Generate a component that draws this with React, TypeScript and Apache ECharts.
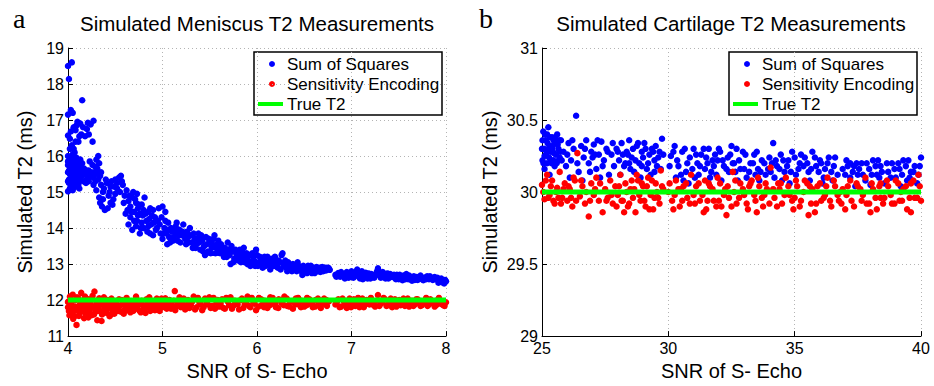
import React, { useEffect, useRef } from "react";
import * as echarts from "echarts";

// ---------- Data ----------
const meniscusTitle = "Simulated Meniscus T2 Measurements";
const cartilageTitle = "Simulated Cartilage T2 Measurements";
const seriesNames = ["Sum of Squares", "Sensitivity Encoding", "True T2"];
const xAxisName = "SNR of S- Echo";
const yAxisName = "Simulated T2 (ms)";

const meniscusX = { min: 4, max: 8, interval: 1 };
const meniscusY = { min: 11, max: 19, interval: 1 };
const cartilageX = { min: 25, max: 40, interval: 5 };
const cartilageY = { min: 29, max: 31, interval: 0.5 };

const meniscusTrueT2 = 12;
const cartilageTrueT2 = 30;

const meniscusSoS: number[][] = [
  [4.0, 18.5], [4.04, 18.6], [4.01, 18.14], [4.15, 17.55], [4.03, 17.28], [4.0, 17.15], [4.05, 17.2],
  [4.06, 16.8], [4.13, 16.9], [4.21, 16.92], [4.27, 16.98], [4.18, 16.55], [4.11, 16.4], [4.26, 16.4],
  [4.0, 16.57], [4.02, 16.48], [4.09, 16.85], [4.16, 16.8], [4.24, 16.88], [4.03, 16.68], [4.08, 16.72],
  [4.0, 16.0], [4.01, 15.85], [4.02, 15.7], [4.0, 15.55], [4.03, 15.4], [4.01, 15.25], [4.02, 15.1],
  [4.0, 15.02], [4.04, 15.9], [4.05, 15.6], [4.06, 15.45], [4.04, 15.2], [4.07, 15.75], [4.08, 15.5],
  [4.06, 15.3], [4.09, 15.95], [4.08, 15.15], [4.1, 15.65], [4.11, 15.4], [4.12, 15.8], [4.13, 15.55],
  [4.1, 15.25], [4.14, 15.7], [4.12, 15.1], [4.05, 16.05], [4.03, 15.98], [4.07, 16.1], [4.09, 15.35],
  [4.15, 15.45], [4.16, 15.6], [4.0, 15.75], [4.02, 15.5], [4.04, 15.65], [4.01, 15.35],
  [4.18, 15.5], [4.2, 15.35], [4.22, 15.6], [4.24, 15.45], [4.19, 15.25], [4.26, 15.75], [4.28, 15.55],
  [4.3, 15.9], [4.32, 16.0], [4.29, 15.3], [4.31, 15.65], [4.33, 15.8], [4.34, 15.45], [4.27, 15.2], [4.23, 15.85],
  [4.3, 15.05], [4.33, 14.85], [4.36, 14.6], [4.39, 14.5], [4.42, 14.55], [4.38, 15.1], [4.41, 15.25],
  [4.44, 15.0], [4.46, 15.3], [4.48, 14.8], [4.5, 15.35], [4.52, 15.1], [4.54, 15.4], [4.56, 15.45],
  [4.47, 14.65], [4.43, 14.9], [4.58, 15.2], [4.4, 15.35], [4.35, 15.2],
  [4.6, 14.9], [4.62, 15.05], [4.64, 14.75], [4.66, 14.6], [4.68, 14.85], [4.7, 14.45], [4.72, 14.7],
  [4.74, 14.55], [4.76, 14.4], [4.63, 14.5], [4.69, 15.0], [4.78, 14.65], [4.59, 14.7],
  [4.64, 14.1], [4.66, 14.3], [4.68, 13.95], [4.7, 14.2], [4.72, 14.05], [4.74, 14.35], [4.76, 13.85],
  [4.78, 14.15], [4.8, 14.0], [4.82, 14.4], [4.84, 13.9], [4.86, 14.25], [4.88, 14.1], [4.9, 13.8],
  [4.92, 14.3], [4.94, 14.0], [4.96, 14.55], [4.98, 13.85], [4.81, 14.85], [4.87, 14.55],
  [5.0, 14.6], [5.03, 14.45], [5.0, 13.7], [5.02, 14.0], [5.04, 13.85], [5.06, 14.15], [5.08, 13.6],
  [5.1, 13.9], [5.12, 13.75], [5.14, 14.05], [5.16, 13.65], [5.18, 13.95], [5.2, 13.8], [5.22, 14.1],
  [5.24, 13.7], [5.26, 13.9], [5.05, 13.55], [5.15, 13.85],
  [5.28, 13.6], [5.3, 13.8], [5.32, 13.45], [5.34, 13.7], [5.36, 13.55], [5.38, 13.85], [5.4, 13.4],
  [5.42, 13.65], [5.44, 13.5], [5.46, 13.75], [5.48, 13.35], [5.5, 13.6], [5.52, 13.45], [5.54, 13.7],
  [5.56, 13.3], [5.58, 13.55], [5.6, 13.4], [5.45, 13.25],
  [5.62, 13.55], [5.64, 13.3], [5.66, 13.45], [5.68, 13.2], [5.7, 13.4], [5.72, 13.0], [5.74, 13.35],
  [5.76, 13.15], [5.78, 13.3], [5.8, 13.1], [5.82, 13.4], [5.84, 13.2], [5.69, 13.6], [5.86, 13.45],
  [5.88, 13.15], [5.9, 13.0], [5.92, 13.25], [5.94, 13.05], [5.96, 13.2], [5.98, 12.95], [6.0, 13.25],
  [6.02, 13.05], [6.04, 13.15], [6.06, 12.9], [6.08, 13.2], [6.1, 13.0], [6.12, 13.1], [6.14, 12.85],
  [6.16, 13.15], [6.18, 12.95], [6.2, 13.1], [6.22, 12.9], [6.24, 13.05], [6.26, 13.25], [6.28, 12.95],
  [6.3, 13.1], [6.32, 12.8], [6.27, 13.3],
  [6.34, 12.95], [6.36, 12.85], [6.38, 13.0], [6.4, 12.9], [6.42, 12.8], [6.44, 12.95], [6.46, 12.85],
  [6.48, 12.7], [6.5, 12.9], [6.52, 12.8], [6.54, 12.95], [6.56, 12.85], [6.58, 12.75], [6.6, 12.9],
  [6.62, 12.85], [6.64, 12.8], [6.66, 12.9], [6.68, 12.85], [6.7, 12.8], [6.72, 12.9], [6.74, 12.85], [6.76, 12.88],
  [6.83, 12.7], [6.86, 12.75], [6.88, 12.65], [6.9, 12.72], [6.93, 12.6], [6.95, 12.78], [6.98, 12.68],
  [7.0, 12.8], [7.02, 12.62], [7.04, 12.75], [7.06, 12.85], [7.08, 12.65], [7.1, 12.72], [7.12, 12.58],
  [7.14, 12.7], [7.16, 12.64], [7.18, 12.74], [7.2, 12.6], [7.22, 12.68], [7.24, 12.62], [7.26, 12.72],
  [7.28, 12.88], [7.3, 12.76], [7.32, 12.66], [7.34, 12.7], [7.36, 12.6], [7.38, 12.74], [7.4, 12.64], [7.42, 12.68],
  [7.46, 12.62], [7.48, 12.7], [7.5, 12.58], [7.52, 12.66], [7.54, 12.55], [7.56, 12.64], [7.58, 12.72],
  [7.6, 12.58], [7.62, 12.62], [7.64, 12.54], [7.66, 12.66], [7.68, 12.6], [7.7, 12.56], [7.72, 12.64],
  [7.74, 12.6], [7.76, 12.55], [7.78, 12.62], [7.8, 12.66], [7.82, 12.58], [7.84, 12.62], [7.86, 12.56],
  [7.88, 12.64], [7.9, 12.6], [7.92, 12.48], [7.94, 12.55], [7.96, 12.5], [7.98, 12.46], [8.0, 12.52],
];

const meniscusSoSExtra: number[][] = [
  [4.0, 15.3], [4.0, 15.85], [4.01, 15.6], [4.02, 15.95], [4.02, 15.3], [4.03, 15.15], [4.03, 15.8],
  [4.04, 15.5], [4.05, 15.05], [4.05, 15.35], [4.06, 15.85], [4.06, 15.15], [4.07, 15.4], [4.07, 15.6],
  [4.08, 15.9], [4.08, 15.3], [4.09, 15.55], [4.09, 15.8], [4.1, 15.45], [4.1, 15.9], [4.11, 15.6],
  [4.11, 15.2], [4.12, 15.5], [4.13, 15.35], [4.13, 15.9], [4.14, 15.5], [4.15, 15.8], [4.16, 15.3],
  [4.17, 15.65], [4.04, 16.3], [4.06, 16.2], [4.02, 16.2], [4.08, 16.4], [4.12, 16.55], [4.2, 16.75],
  [4.22, 16.6], [4.14, 16.6], [4.1, 16.95],
  [4.2, 15.6], [4.21, 15.45], [4.22, 15.3], [4.25, 15.55], [4.27, 15.4], [4.29, 15.7], [4.31, 15.5],
  [4.32, 15.35], [4.35, 15.55], [4.37, 15.0], [4.34, 14.7], [4.37, 14.8], [4.45, 15.15], [4.5, 14.95],
  [4.52, 15.25], [4.55, 15.0], [4.57, 15.3], [4.49, 15.15], [4.45, 14.7],
  [4.61, 14.4], [4.65, 14.9], [4.67, 14.45], [4.71, 14.8], [4.73, 14.2], [4.75, 14.65], [4.77, 14.0],
  [4.79, 14.35], [4.8, 14.5], [4.83, 14.2], [4.85, 14.05], [4.87, 13.85], [4.89, 14.35], [4.91, 14.15],
  [4.93, 13.95], [4.95, 14.2], [4.97, 14.1], [4.99, 14.3], [4.73, 14.95], [4.85, 14.45], [4.9, 14.5],
  [5.01, 13.85], [5.03, 14.2], [5.05, 13.95], [5.07, 13.75], [5.09, 14.0], [5.11, 13.65], [5.13, 13.95],
  [5.15, 14.15], [5.17, 13.8], [5.19, 13.6], [5.21, 13.9], [5.23, 13.85], [5.25, 13.55], [5.27, 13.75],
  [5.29, 14.0], [5.31, 13.6], [5.33, 13.85], [5.35, 13.45], [5.37, 13.7], [5.39, 13.6], [5.41, 13.8],
  [5.43, 13.35], [5.47, 13.55], [5.49, 13.7], [5.51, 13.3], [5.53, 13.55], [5.55, 13.8], [5.57, 13.45], [5.59, 13.65],
  [5.61, 13.3], [5.63, 13.45], [5.65, 13.2], [5.67, 13.35], [5.71, 13.25], [5.73, 13.5], [5.75, 13.05],
  [5.77, 13.4], [5.79, 13.2], [5.81, 13.3], [5.83, 13.05], [5.85, 13.3], [5.87, 13.05], [5.89, 13.3],
  [5.91, 13.1], [5.93, 12.95], [5.95, 13.3], [5.97, 13.1], [5.99, 13.4], [6.01, 12.95], [6.03, 13.2],
  [6.05, 13.05], [6.07, 13.1], [6.09, 12.95], [6.11, 13.2], [6.13, 13.0], [6.15, 12.95], [6.17, 13.05],
  [6.19, 13.2], [6.21, 12.95], [6.23, 13.1], [6.25, 12.85], [6.29, 13.05], [6.31, 12.9],
  [6.33, 13.05], [6.35, 12.9], [6.37, 12.8], [6.39, 12.95], [6.41, 12.85], [6.43, 13.05], [6.45, 12.9],
  [6.47, 12.8], [6.49, 12.95], [6.51, 12.85], [6.53, 12.75], [6.55, 12.9], [6.57, 12.95], [6.59, 12.8],
  [6.61, 12.75], [6.63, 12.92], [6.65, 12.85], [6.67, 12.78], [6.69, 12.92], [6.71, 12.86], [6.73, 12.82],
  [6.75, 12.9], [6.77, 12.84],
  [6.84, 12.65], [6.87, 12.7], [6.89, 12.78], [6.92, 12.68], [6.94, 12.72], [6.97, 12.62], [6.99, 12.74],
  [7.01, 12.7], [7.03, 12.66], [7.05, 12.7], [7.07, 12.76], [7.09, 12.6], [7.11, 12.8], [7.13, 12.68],
  [7.15, 12.76], [7.17, 12.6], [7.19, 12.68], [7.21, 12.72], [7.23, 12.64], [7.25, 12.68], [7.27, 12.8],
  [7.29, 12.7], [7.31, 12.62], [7.33, 12.78], [7.35, 12.66], [7.37, 12.7], [7.39, 12.6], [7.41, 12.72],
  [7.43, 12.64], [7.45, 12.7], [7.47, 12.58], [7.49, 12.64], [7.51, 12.7], [7.53, 12.6], [7.55, 12.68],
  [7.57, 12.58], [7.59, 12.64], [7.61, 12.68], [7.63, 12.6], [7.65, 12.62], [7.67, 12.56], [7.69, 12.64],
  [7.71, 12.6], [7.73, 12.68], [7.75, 12.58], [7.77, 12.62], [7.79, 12.58], [7.81, 12.62], [7.83, 12.66],
  [7.85, 12.6], [7.87, 12.62], [7.89, 12.58], [7.91, 12.62], [7.93, 12.56], [7.95, 12.6], [7.97, 12.52], [7.99, 12.56],
];

const meniscusSense: number[][] = [
  [4.0, 11.95], [4.01, 11.7], [4.02, 12.1], [4.03, 11.6], [4.04, 11.85], [4.05, 12.15], [4.06, 11.75],
  [4.07, 11.55], [4.08, 12.0], [4.09, 11.31], [4.1, 11.8], [4.11, 12.05], [4.12, 11.65], [4.13, 11.9],
  [4.14, 12.2], [4.15, 11.7], [4.16, 11.85], [4.17, 11.5], [4.18, 12.1], [4.19, 11.78], [4.2, 11.95],
  [4.21, 11.62], [4.22, 12.02], [4.23, 11.72], [4.24, 11.88], [4.25, 11.58], [4.26, 12.12], [4.27, 11.8],
  [4.28, 12.24], [4.29, 11.68], [4.3, 11.92], [4.31, 11.44], [4.32, 11.82], [4.33, 12.05], [4.34, 11.7],
  [4.35, 11.98], [4.36, 11.6], [4.37, 11.86], [4.38, 12.08], [4.39, 11.74], [4.4, 11.9], [4.41, 11.64],
  [4.42, 12.0], [4.43, 11.78], [4.44, 11.55], [4.45, 11.88], [4.46, 12.04], [4.47, 11.7], [4.48, 11.84],
  [4.49, 11.62], [4.5, 11.96], [4.0, 11.8], [4.02, 11.9], [4.05, 11.65], [4.08, 11.72], [4.12, 11.84],
  [4.52, 11.8], [4.54, 12.02], [4.56, 11.68], [4.58, 11.9], [4.6, 11.74], [4.62, 12.06], [4.64, 11.82],
  [4.66, 11.66], [4.68, 11.94], [4.7, 11.78], [4.72, 12.1], [4.74, 11.86], [4.76, 11.7], [4.78, 11.98],
  [4.8, 11.82], [4.82, 11.64], [4.84, 11.92], [4.86, 12.08], [4.88, 11.76], [4.9, 11.88], [4.92, 11.72],
  [4.94, 12.04], [4.96, 11.84], [4.98, 11.94],
  [5.0, 11.8], [5.03, 12.05], [5.06, 11.88], [5.09, 11.76], [5.12, 11.98], [5.13, 12.25], [5.15, 11.84],
  [5.18, 12.08], [5.21, 11.9], [5.24, 11.74], [5.27, 12.0], [5.3, 11.86], [5.33, 12.1], [5.36, 11.8],
  [5.39, 11.94], [5.42, 11.72], [5.45, 12.04], [5.48, 11.88], [5.51, 11.78], [5.54, 12.06], [5.57, 11.92],
  [5.6, 11.82], [5.63, 12.02], [5.66, 11.76], [5.69, 11.96], [5.72, 12.08], [5.75, 11.84], [5.78, 11.94],
  [5.81, 11.74], [5.84, 12.04], [5.87, 11.88], [5.9, 12.1], [5.93, 11.8], [5.96, 11.96], [5.99, 11.72],
  [6.02, 12.06], [6.05, 11.86], [6.08, 11.98], [6.11, 11.78], [6.14, 12.08], [6.17, 11.9], [6.2, 11.8],
  [6.23, 12.02], [6.26, 11.92], [6.29, 12.1], [6.32, 11.84], [6.35, 11.96], [6.38, 11.76], [6.41, 12.04],
  [6.44, 11.88], [6.47, 11.98], [6.5, 11.82], [6.53, 12.06], [6.56, 11.9], [6.59, 11.8], [6.62, 12.0],
  [6.65, 11.86], [6.68, 11.94], [6.71, 12.04], [6.74, 11.84], [6.76, 11.96],
  [6.83, 11.88], [6.86, 12.02], [6.89, 11.82], [6.92, 11.96], [6.95, 11.78], [6.98, 12.04], [7.01, 11.9],
  [7.04, 11.84], [7.07, 12.06], [7.1, 11.92], [7.13, 11.8], [7.16, 12.0], [7.19, 11.88], [7.22, 11.96],
  [7.25, 11.82], [7.28, 12.14], [7.31, 11.9], [7.34, 12.06], [7.37, 11.84], [7.4, 11.96], [7.43, 11.8],
  [7.46, 12.02], [7.49, 11.9], [7.52, 11.86], [7.55, 12.04], [7.58, 11.92], [7.61, 11.82], [7.64, 11.98],
  [7.67, 11.88], [7.7, 12.02], [7.73, 11.84], [7.76, 11.94], [7.79, 12.06], [7.82, 11.88], [7.85, 11.96],
  [7.88, 11.82], [7.91, 12.0], [7.94, 11.9], [7.97, 11.86], [8.0, 11.94],
];

const meniscusSenseExtra: number[][] = [
  [4.015, 11.58], [4.035, 11.92], [4.055, 11.48], [4.075, 11.82], [4.095, 12.08], [4.115, 11.56],
  [4.135, 11.74], [4.155, 11.98], [4.175, 11.66], [4.195, 11.88], [4.215, 11.52], [4.235, 11.8],
  [4.255, 12.04], [4.275, 11.6], [4.295, 11.84], [4.315, 11.7], [4.335, 11.94], [4.355, 11.42],
  [4.375, 11.66], [4.395, 11.96], [4.415, 11.78], [4.435, 11.9], [4.455, 11.6], [4.475, 11.82], [4.495, 11.72],
  [4.51, 11.9], [4.53, 11.7], [4.55, 11.84], [4.57, 12.0], [4.59, 11.62], [4.61, 11.86], [4.63, 11.72],
  [4.65, 11.96], [4.67, 11.8], [4.69, 11.7], [4.71, 11.9], [4.73, 11.76], [4.75, 11.98], [4.77, 11.66],
  [4.79, 11.86], [4.81, 11.74], [4.83, 12.02], [4.85, 11.8], [4.87, 11.7], [4.89, 11.96], [4.91, 11.82],
  [4.93, 11.74], [4.95, 11.9], [4.97, 11.7], [4.99, 12.04],
  [5.015, 11.9], [5.045, 11.76], [5.075, 12.0], [5.105, 11.84], [5.135, 11.72], [5.165, 11.94],
  [5.195, 11.8], [5.225, 12.04], [5.255, 11.86], [5.285, 11.78], [5.315, 11.96], [5.345, 11.74],
  [5.375, 12.06], [5.405, 11.88], [5.435, 11.8], [5.465, 11.92], [5.495, 12.08], [5.525, 11.84],
  [5.555, 11.76], [5.585, 12.0], [5.615, 11.9], [5.645, 11.78], [5.675, 12.06], [5.705, 11.86],
  [5.735, 11.76], [5.765, 11.98], [5.795, 11.88], [5.825, 12.0], [5.855, 11.78], [5.885, 11.94],
  [5.915, 11.84], [5.945, 12.06], [5.975, 11.9],
  [6.015, 11.82], [6.045, 12.02], [6.075, 11.8], [6.105, 11.94], [6.135, 11.86], [6.165, 12.06],
  [6.195, 11.9], [6.225, 11.78], [6.255, 12.0], [6.285, 11.86], [6.315, 12.04], [6.345, 11.82],
  [6.375, 11.96], [6.405, 11.88], [6.435, 12.06], [6.465, 11.8], [6.495, 11.94], [6.525, 11.86],
  [6.555, 12.02], [6.585, 11.92], [6.615, 11.82], [6.645, 12.04], [6.675, 11.78], [6.705, 11.9], [6.735, 12.0],
  [6.845, 11.94], [6.875, 11.8], [6.905, 12.04], [6.935, 11.88], [6.965, 11.92], [6.995, 11.8],
  [7.025, 12.02], [7.055, 11.9], [7.085, 11.8], [7.115, 12.04], [7.145, 11.88], [7.175, 11.94],
  [7.205, 12.06], [7.235, 11.86], [7.265, 11.98], [7.295, 11.84], [7.325, 11.94], [7.355, 12.02],
  [7.385, 11.86], [7.415, 12.04], [7.445, 11.9], [7.475, 11.82], [7.505, 12.0], [7.535, 11.94],
  [7.565, 11.84], [7.595, 12.04], [7.625, 11.9], [7.655, 11.84], [7.685, 12.02], [7.715, 11.92],
  [7.745, 11.86], [7.775, 11.98], [7.805, 11.84], [7.835, 12.02], [7.865, 11.92], [7.895, 11.86],
  [7.925, 12.06], [7.955, 11.92], [7.985, 11.84],
];

const cartilageSoS: number[][] = [
  [25.0, 30.3], [25.05, 30.42], [25.1, 30.25], [25.15, 30.36], [25.2, 30.2], [25.25, 30.45], [25.3, 30.32],
  [25.35, 30.28], [25.4, 30.38], [25.45, 30.22], [25.5, 30.34], [25.55, 30.26], [25.6, 30.4], [25.65, 30.3],
  [25.7, 30.24], [25.75, 30.36], [25.1, 30.16], [25.3, 30.12], [25.5, 30.18], [25.2, 30.4], [25.4, 30.3], [25.02, 30.22],
  [25.85, 30.28], [25.95, 30.18], [26.05, 30.34], [26.15, 30.22], [26.25, 30.3], [26.35, 30.53], [26.45, 30.14],
  [26.55, 30.32], [26.65, 30.24], [26.75, 30.36], [26.85, 30.2], [26.95, 30.28], [27.05, 30.33], [27.15, 30.16],
  [27.25, 30.26], [27.35, 30.35], [27.45, 30.22], [27.55, 30.3], [27.65, 30.12], [27.75, 30.26], [27.85, 30.18],
  [26.1, 30.1], [26.6, 30.08], [27.0, 30.24], [27.3, 30.1],
  [27.95, 30.3], [28.05, 30.22], [28.15, 30.34], [28.25, 30.18], [28.35, 30.28], [28.45, 30.36], [28.55, 30.24],
  [28.65, 30.14], [28.75, 30.32], [28.85, 30.2], [28.95, 30.28], [29.05, 30.34], [29.15, 30.16], [29.25, 30.26],
  [29.35, 30.3], [29.45, 30.22], [29.55, 30.18], [29.65, 30.28], [29.75, 30.37], [28.1, 30.12], [28.5, 30.16],
  [28.9, 30.1], [29.3, 30.12], [29.0, 30.24], [28.4, 30.26],
  [30.1, 30.25], [30.25, 30.32], [30.4, 30.18], [30.55, 30.28], [30.7, 30.14], [30.85, 30.24], [31.0, 30.3],
  [31.15, 30.2], [31.3, 30.26], [31.45, 30.16], [31.6, 30.3], [31.75, 30.22], [31.9, 30.12], [32.05, 30.28],
  [32.2, 30.18], [32.35, 30.24], [32.5, 30.32], [32.65, 30.14], [32.8, 30.22], [32.95, 30.28], [33.1, 30.1],
  [33.25, 30.2], [33.4, 30.26], [33.55, 30.16], [33.7, 30.22], [33.85, 30.12], [34.0, 30.24], [34.15, 30.34],
  [34.3, 30.18], [34.45, 30.26], [34.6, 30.14], [34.75, 30.22], [34.9, 30.28], [35.05, 30.12], [35.2, 30.2],
  [30.3, 30.1], [30.8, 30.06], [31.2, 30.12], [31.8, 30.18], [32.1, 30.08], [32.6, 30.2], [33.0, 30.16],
  [33.6, 30.08], [34.2, 30.1], [34.8, 30.06], [31.5, 30.24], [32.4, 30.14],
  [35.4, 30.24], [35.55, 30.14], [35.7, 30.28], [35.85, 30.18], [36.0, 30.22], [36.15, 30.1], [36.3, 30.2],
  [36.45, 30.14], [36.6, 30.24], [35.6, 30.08], [36.1, 30.06], [36.5, 30.08],
  [36.9, 30.16], [37.05, 30.22], [37.2, 30.1], [37.35, 30.18], [37.5, 30.12], [37.65, 30.2], [37.8, 30.08],
  [37.95, 30.16], [38.1, 30.22], [38.25, 30.12], [38.4, 30.18], [38.55, 30.06], [38.7, 30.14], [38.85, 30.2],
  [39.0, 30.1], [39.15, 30.16], [39.3, 30.22], [39.45, 30.08], [39.6, 30.14], [39.75, 30.18], [39.9, 30.12],
  [40.0, 30.24], [37.4, 30.04], [38.0, 30.05], [39.2, 30.04], [39.85, 30.06],
];

const cartilageSoSExtra: number[][] = [
  [25.02, 30.36], [25.08, 30.3], [25.12, 30.4], [25.18, 30.28], [25.22, 30.34], [25.28, 30.24], [25.32, 30.38],
  [25.38, 30.2], [25.42, 30.32], [25.48, 30.27], [25.52, 30.38], [25.58, 30.2], [25.62, 30.33], [25.68, 30.36],
  [25.72, 30.28], [25.78, 30.22], [25.06, 30.2], [25.16, 30.26], [25.26, 30.3], [25.36, 30.22], [25.46, 30.36], [25.66, 30.22],
  [26.0, 30.26], [26.2, 30.36], [26.4, 30.2], [26.7, 30.3], [26.9, 30.14], [27.1, 30.26], [27.2, 30.36],
  [27.4, 30.18], [27.6, 30.28], [27.8, 30.34], [28.0, 30.28], [28.2, 30.26], [28.3, 30.2], [28.6, 30.3],
  [28.7, 30.22], [28.8, 30.34], [29.1, 30.3], [29.2, 30.2], [29.4, 30.28], [29.5, 30.32], [29.6, 30.24],
  [29.7, 30.16], [29.8, 30.26], [28.45, 30.2], [28.95, 30.18], [29.45, 30.14],
  [30.05, 30.18], [30.2, 30.28], [30.35, 30.22], [30.5, 30.12], [30.65, 30.3], [30.75, 30.2], [30.95, 30.16],
  [31.1, 30.26], [31.25, 30.18], [31.4, 30.3], [31.55, 30.2], [31.7, 30.14], [31.85, 30.26], [31.95, 30.22],
  [32.0, 30.3], [32.15, 30.22], [32.3, 30.16], [32.45, 30.26], [32.55, 30.2], [32.7, 30.3], [32.85, 30.16],
  [33.05, 30.26], [33.2, 30.14], [33.35, 30.2], [33.5, 30.28], [33.65, 30.14], [33.8, 30.2], [33.95, 30.16],
  [34.1, 30.2], [34.25, 30.22], [34.4, 30.16], [34.55, 30.22], [34.7, 30.18], [34.85, 30.14], [35.0, 30.24],
  [35.15, 30.16], [35.25, 30.26], [31.05, 30.1], [31.65, 30.1], [32.75, 30.08], [33.45, 30.12], [34.5, 30.08],
  [30.6, 30.08], [34.05, 30.14],
  [35.35, 30.18], [35.5, 30.2], [35.65, 30.16], [35.8, 30.24], [35.95, 30.14], [36.05, 30.2], [36.2, 30.16],
  [36.35, 30.24], [36.55, 30.18], [36.7, 30.12], [37.0, 30.12], [37.1, 30.18], [37.3, 30.14], [37.45, 30.2],
  [37.55, 30.16], [37.7, 30.12], [37.85, 30.2], [38.05, 30.12], [38.2, 30.18], [38.35, 30.1], [38.45, 30.14],
  [38.65, 30.2], [38.8, 30.1], [38.95, 30.16], [39.1, 30.2], [39.25, 30.12], [39.4, 30.18], [39.55, 30.1],
  [39.7, 30.14], [39.95, 30.18], [39.5, 30.22], [38.3, 30.22], [37.2, 30.2],
];

const cartilageSense: number[][] = [
  [25.0, 30.05], [25.1, 29.95], [25.2, 30.12], [25.3, 29.98], [25.4, 30.08], [25.5, 29.92], [25.6, 30.03],
  [25.7, 30.14], [25.8, 29.96], [25.9, 30.06], [26.0, 29.94], [26.1, 30.02], [26.2, 29.9], [26.3, 30.08],
  [26.4, 30.27], [26.5, 29.97], [26.6, 30.04], [26.7, 29.92], [26.85, 29.83], [26.95, 30.06], [27.05, 29.98],
  [27.15, 30.1], [27.25, 29.94], [27.4, 29.86], [27.5, 30.02], [27.6, 29.96], [27.7, 30.08], [27.8, 29.92],
  [27.9, 30.04], [28.0, 29.98], [28.1, 30.12], [28.2, 29.94], [28.3, 30.06], [28.4, 29.9], [28.5, 30.02],
  [28.6, 29.96], [28.7, 29.86], [28.8, 30.08], [28.9, 29.94], [29.0, 30.04], [29.1, 29.9], [29.2, 30.1],
  [29.3, 29.98], [29.4, 29.88], [29.5, 30.06], [29.6, 29.96], [29.7, 30.15], [29.8, 30.02],
  [30.0, 30.0], [30.15, 29.94], [30.3, 30.08], [30.45, 29.9], [30.6, 30.04], [30.75, 29.96], [30.9, 30.12],
  [31.05, 29.92], [31.2, 30.06], [31.35, 29.98], [31.5, 29.88], [31.65, 30.04], [31.8, 29.94], [31.95, 30.1],
  [32.1, 29.9], [32.25, 30.02], [32.4, 29.96], [32.55, 30.14], [32.7, 29.92], [32.85, 30.06], [33.0, 29.98],
  [33.15, 29.88], [33.3, 30.08], [33.45, 29.94], [33.6, 30.04], [33.75, 29.9], [33.9, 30.02], [34.05, 30.17],
  [34.2, 29.96], [34.35, 30.06], [34.5, 29.92], [34.65, 30.1], [34.8, 29.98], [34.95, 29.88], [35.1, 30.04],
  [35.25, 29.94], [35.4, 30.08], [35.55, 29.84], [35.7, 30.02], [35.85, 29.92], [36.0, 30.06], [36.15, 29.96],
  [36.3, 30.1], [36.45, 29.9], [36.6, 30.04], [36.75, 29.94], [36.9, 30.02], [37.05, 29.98], [37.2, 30.08],
  [37.35, 29.9], [37.5, 30.04], [37.65, 29.94], [37.8, 30.1], [37.95, 29.92], [38.1, 30.02], [38.25, 29.88],
  [38.4, 30.06], [38.55, 29.96], [38.7, 30.04], [38.85, 29.92], [39.0, 30.08], [39.15, 29.94], [39.3, 30.02],
  [39.45, 29.88], [39.6, 30.06], [39.75, 29.96], [39.9, 30.12], [40.0, 29.94],
  [30.5, 30.02], [31.0, 29.98], [31.6, 30.06], [32.0, 29.94], [32.6, 30.0], [33.2, 30.04], [33.8, 29.98],
  [34.4, 30.02], [35.0, 29.96], [35.6, 30.04], [36.2, 29.98], [36.8, 30.0], [37.6, 30.02], [38.4, 29.96],
  [39.2, 30.0], [31.4, 29.86], [32.3, 29.84], [33.5, 29.86], [35.8, 29.86], [37.0, 29.88], [38.0, 29.86],
  [39.6, 29.86], [30.2, 29.88], [25.45, 29.94], [25.75, 29.92], [26.25, 30.1], [28.25, 29.86], [28.75, 30.12],
  [29.25, 29.88],
];

const cartilageSenseExtra: number[][] = [
  [25.05, 30.0], [25.15, 30.08], [25.25, 29.96], [25.35, 30.04], [25.55, 30.0], [25.65, 29.96], [25.85, 30.02],
  [26.05, 30.04], [26.15, 29.96], [26.35, 29.94], [26.55, 30.08], [26.75, 30.0], [26.9, 29.94], [27.1, 30.02],
  [27.3, 30.06], [27.55, 29.94], [27.75, 29.98], [27.95, 29.9], [28.05, 30.04], [28.15, 29.94], [28.35, 30.0],
  [28.45, 29.92], [28.55, 30.08], [28.65, 30.02], [28.85, 29.98], [28.95, 30.06], [29.05, 29.94], [29.15, 30.04],
  [29.35, 30.08], [29.45, 29.96], [29.55, 30.0], [29.65, 29.92], [29.75, 30.04],
  [30.05, 30.06], [30.25, 29.98], [30.4, 30.02], [30.55, 29.94], [30.7, 30.06], [30.85, 29.92], [31.1, 30.04],
  [31.25, 29.94], [31.45, 30.08], [31.55, 29.94], [31.75, 30.02], [31.9, 29.9], [32.05, 30.06], [32.2, 29.98],
  [32.35, 30.04], [32.5, 29.9], [32.65, 30.08], [32.8, 29.96], [32.95, 30.02], [33.1, 29.92], [33.25, 30.06],
  [33.4, 29.98], [33.55, 30.1], [33.7, 29.96], [33.85, 30.06], [34.0, 29.92], [34.15, 30.02], [34.3, 29.9],
  [34.45, 30.06], [34.6, 29.98], [34.75, 30.04], [34.9, 29.94], [35.05, 30.08], [35.2, 29.9], [35.35, 30.0],
  [35.5, 30.06], [35.65, 29.92], [35.9, 30.04], [36.05, 29.94], [36.25, 30.04], [36.4, 29.94], [36.55, 30.08],
  [36.7, 29.98], [36.85, 29.92], [37.1, 30.04], [37.25, 29.94], [37.45, 30.06], [37.7, 29.98], [37.85, 29.92],
  [38.05, 30.06], [38.2, 29.96], [38.35, 30.04], [38.5, 29.92], [38.65, 30.08], [38.8, 29.98], [38.95, 29.92],
  [39.1, 30.06], [39.25, 29.94], [39.4, 30.04], [39.55, 29.96], [39.7, 30.08], [39.85, 29.96], [39.95, 30.04],
];

// ---------- Styling ----------
const FONT = "'Liberation Sans', Arial, Helvetica, sans-serif";
const BLUE = "#0000ff";
const RED = "#ff0000";
const GREEN = "#00ff00";

function axisCommon(range: { min: number; max: number; interval: number }) {
  return {
    type: "value" as const,
    min: range.min,
    max: range.max,
    interval: range.interval,
    axisLine: { show: true, onZero: false, lineStyle: { color: "#000", width: 1 } },
    axisTick: { show: true, inside: true, length: 5, lineStyle: { color: "#000" } },
    axisLabel: { color: "#000", fontSize: 16, fontFamily: FONT, margin: 4 },
    splitLine: { show: true, lineStyle: { color: "#b4b4b4", type: [1, 3] as any, width: 1 } },
    nameTextStyle: { color: "#000", fontSize: 20, fontFamily: FONT },
  };
}

function legendGraphic(left: number, top: number) {
  const w = 188;
  const h = 63;
  return {
    type: "group",
    children: [
      { type: "rect", shape: { x: left, y: top, width: w, height: h }, style: { fill: "#fff", stroke: "#000", lineWidth: 1.5 } },
      { type: "circle", shape: { cx: left + 18, cy: top + 12, r: 3 }, style: { fill: BLUE } },
      { type: "text", x: left + 33, y: top + 12, style: { text: seriesNames[0], fontSize: 17, fontFamily: FONT, fill: "#000", verticalAlign: "middle", align: "left" } },
      { type: "circle", shape: { cx: left + 18, cy: top + 32, r: 3 }, style: { fill: RED } },
      { type: "text", x: left + 33, y: top + 32, style: { text: seriesNames[1], fontSize: 17, fontFamily: FONT, fill: "#000", verticalAlign: "middle", align: "left" } },
      { type: "line", shape: { x1: left + 4, y1: top + 52, x2: left + 29, y2: top + 52 }, style: { stroke: GREEN, lineWidth: 4 } },
      { type: "text", x: left + 33, y: top + 52, style: { text: seriesNames[2], fontSize: 17, fontFamily: FONT, fill: "#000", verticalAlign: "middle", align: "left" } },
    ],
  };
}

export default function App() {
  const ref = useRef<HTMLDivElement>(null);

  useEffect(() => {
    if (!ref.current) return;
    document.body.style.margin = "0";
    const chart = echarts.init(ref.current, undefined, { renderer: "svg" });

    const dot = (data: number[][], color: string, name: string, idx: number) => ({
      type: "scatter",
      name,
      xAxisIndex: idx,
      yAxisIndex: idx,
      data,
      symbolSize: 6.5,
      itemStyle: { color, opacity: 1 },
    });

    const option: any = {
      animation: false,
      backgroundColor: "#fff",
      grid: [
        { left: 68, top: 48, width: 378, height: 291 },
        { left: 542, top: 48, width: 379, height: 291 },
      ],
      xAxis: [
        { ...axisCommon(meniscusX), gridIndex: 0, name: xAxisName, nameLocation: "middle", nameGap: 19 },
        { ...axisCommon(cartilageX), gridIndex: 1, name: xAxisName, nameLocation: "middle", nameGap: 19 },
      ],
      yAxis: [
        { ...axisCommon(meniscusY), gridIndex: 0, name: yAxisName, nameLocation: "middle", nameGap: 33 },
        { ...axisCommon(cartilageY), gridIndex: 1, name: yAxisName, nameLocation: "middle", nameGap: 42 },
      ],
      series: [
        dot(meniscusSoS.concat(meniscusSoSExtra), BLUE, seriesNames[0], 0),
        dot(meniscusSense.concat(meniscusSenseExtra), RED, seriesNames[1], 0),
        {
          type: "line", name: seriesNames[2], xAxisIndex: 0, yAxisIndex: 0, showSymbol: false,
          data: [[meniscusX.min, meniscusTrueT2], [meniscusX.max, meniscusTrueT2]],
          lineStyle: { color: GREEN, width: 5 },
        },
        dot(cartilageSoS.concat(cartilageSoSExtra), BLUE, seriesNames[0], 1),
        dot(cartilageSense.concat(cartilageSenseExtra), RED, seriesNames[1], 1),
        {
          type: "line", name: seriesNames[2], xAxisIndex: 1, yAxisIndex: 1, showSymbol: false,
          data: [[cartilageX.min, cartilageTrueT2], [cartilageX.max, cartilageTrueT2]],
          lineStyle: { color: GREEN, width: 5 },
        },
      ],
      graphic: [
        { type: "text", x: 13, y: 18, style: { text: "a", fontSize: 28, fontFamily: "'Liberation Serif', 'DejaVu Serif', serif", fill: "#000", verticalAlign: "middle", align: "left" } },
        { type: "text", x: 479, y: 18, style: { text: "b", fontSize: 28, fontFamily: "'Liberation Serif', 'DejaVu Serif', serif", fill: "#000", verticalAlign: "middle", align: "left" } },
        { type: "text", x: 257, y: 23, style: { text: meniscusTitle, fontSize: 20.5, fontFamily: FONT, fill: "#000", verticalAlign: "middle", align: "center" } },
        { type: "text", x: 731, y: 23, style: { text: cartilageTitle, fontSize: 20.5, fontFamily: FONT, fill: "#000", verticalAlign: "middle", align: "center" } },
        legendGraphic(254, 52),
        legendGraphic(729, 52),
      ],
    };

    chart.setOption(option);
    return () => chart.dispose();
  }, []);

  return <div ref={ref} style={{ position: "absolute", left: 0, top: 0, width: 934, height: 386 }} />;
}
